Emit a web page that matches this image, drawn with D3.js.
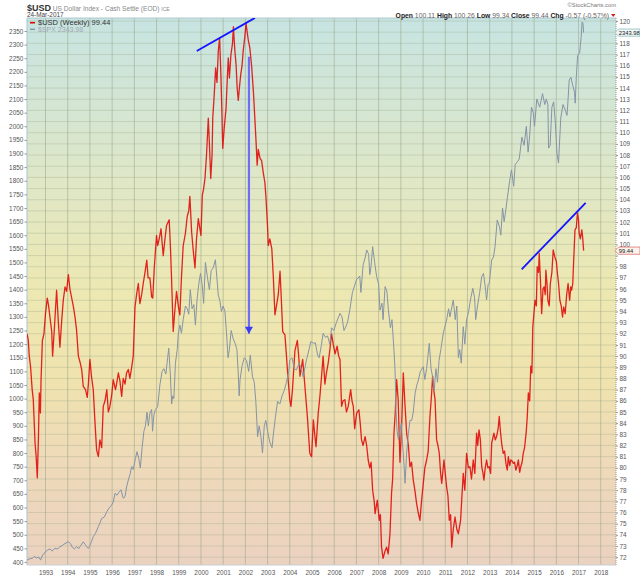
<!DOCTYPE html>
<html>
<head>
<meta charset="utf-8">
<script src="https://d3js.org/d3.v7.min.js"></script>
<style>
body { margin: 0; background: #fff; }
svg { display: block; font-family: "Liberation Sans", Arial, sans-serif; }
.axis text { fill: #555; font-size: 6.4px; }
.axis line { stroke: #999; }
</style>
</head>
<body>
<svg id="chart" width="640" height="576"></svg>
<script>
// [decimal year, value]
var usdPoints = [
[1992.17,92.0],[1992.22,91.5],[1992.27,90.0],[1992.33,89.0],[1992.4,87.0],[1992.45,86.1],[1992.5,83.7],[1992.53,82.2],[1992.58,81.0],
[1992.63,79.1],[1992.68,82.5],[1992.72,86.7],[1992.77,84.9],[1992.8,87.9],[1992.86,91.4],[1992.93,92.0],[1993.0,93.8],[1993.08,95.2],
[1993.14,94.5],[1993.2,93.5],[1993.28,92.2],[1993.32,90.0],[1993.4,92.5],[1993.5,95.9],[1993.58,93.0],[1993.65,90.8],[1993.73,93.2],
[1993.8,95.0],[1993.88,96.2],[1993.95,95.8],[1994.03,97.3],[1994.1,96.0],[1994.18,95.2],[1994.25,94.5],[1994.33,93.5],[1994.4,92.3],
[1994.48,90.0],[1994.55,89.5],[1994.63,88.8],[1994.7,87.3],[1994.8,87.0],[1994.88,86.3],[1994.93,87.5],[1995.0,89.7],[1995.07,88.2],
[1995.15,87.0],[1995.23,84.0],[1995.3,81.6],[1995.38,81.0],[1995.45,82.5],[1995.53,81.8],[1995.6,85.5],[1995.68,86.0],[1995.76,87.0],
[1995.83,85.0],[1995.9,85.5],[1995.98,86.5],[1996.05,87.9],[1996.15,87.0],[1996.2,87.5],[1996.28,88.5],[1996.35,87.8],[1996.43,86.4],
[1996.5,88.0],[1996.58,87.5],[1996.65,88.5],[1996.73,88.8],[1996.8,88.0],[1996.88,89.0],[1996.95,90.0],[1997.03,94.4],[1997.1,95.5],
[1997.18,96.5],[1997.25,94.7],[1997.33,95.5],[1997.4,96.5],[1997.48,97.5],[1997.56,98.6],[1997.62,97.0],[1997.7,97.0],[1997.78,95.3],
[1997.83,95.2],[1997.9,98.0],[1998.0,100.8],[1998.05,99.9],[1998.12,100.5],[1998.2,101.4],[1998.3,99.0],[1998.38,100.5],[1998.45,101.7],
[1998.57,102.2],[1998.63,99.5],[1998.68,96.7],[1998.75,92.2],[1998.82,94.0],[1998.9,95.8],[1998.98,94.5],[1999.05,93.7],[1999.12,97.0],
[1999.2,99.9],[1999.3,101.0],[1999.38,102.5],[1999.45,103.0],[1999.5,104.3],[1999.58,101.1],[1999.65,99.5],[1999.73,97.9],[1999.8,100.5],
[1999.88,102.3],[2000.0,100.8],[2000.06,104.4],[2000.12,105.0],[2000.18,105.9],[2000.25,108.0],[2000.33,111.3],[2000.38,109.0],
[2000.44,105.9],[2000.5,108.0],[2000.53,111.3],[2000.6,113.5],[2000.66,115.8],[2000.72,114.5],[2000.78,117.3],[2000.84,118.5],
[2000.9,115.0],[2000.94,112.0],[2000.98,108.6],[2001.05,110.5],[2001.13,112.2],[2001.2,115.5],[2001.23,116.7],[2001.28,114.9],
[2001.35,117.0],[2001.42,118.0],[2001.46,119.5],[2001.52,117.5],[2001.58,116.1],[2001.63,114.0],[2001.68,112.9],[2001.73,114.0],
[2001.79,115.2],[2001.85,116.0],[2001.9,117.3],[2001.97,118.5],[2002.03,119.8],[2002.08,119.0],[2002.13,118.3],[2002.2,117.6],
[2002.28,116.0],[2002.36,113.7],[2002.42,111.5],[2002.48,109.2],[2002.53,107.1],[2002.58,108.5],[2002.66,107.7],[2002.73,107.5],
[2002.8,106.5],[2002.88,105.5],[2002.93,104.1],[2003.0,101.5],[2003.03,99.9],[2003.1,100.5],[2003.19,99.6],[2003.26,97.0],[2003.33,93.7],
[2003.4,94.5],[2003.48,95.5],[2003.56,97.6],[2003.62,95.0],[2003.68,92.2],[2003.78,91.9],[2003.85,90.0],[2003.92,88.0],[2004.0,86.1],
[2004.05,85.5],[2004.12,87.0],[2004.23,90.5],[2004.34,91.4],[2004.4,90.0],[2004.46,88.2],[2004.58,89.7],[2004.68,87.3],[2004.79,84.6],
[2004.9,81.3],[2004.98,81.0],[2005.06,84.3],[2005.12,83.0],[2005.18,81.9],[2005.28,84.9],[2005.36,86.5],[2005.43,88.2],[2005.5,90.0],
[2005.58,87.5],[2005.65,88.5],[2005.73,89.4],[2005.8,90.5],[2005.88,92.0],[2005.96,91.0],[2006.04,90.2],[2006.13,90.9],[2006.2,90.0],
[2006.26,89.7],[2006.33,85.5],[2006.4,86.0],[2006.48,86.1],[2006.55,85.0],[2006.63,85.5],[2006.74,87.0],[2006.8,86.0],[2006.86,85.5],
[2006.92,83.5],[2007.01,84.9],[2007.11,85.2],[2007.17,84.0],[2007.23,82.5],[2007.3,82.0],[2007.39,82.8],[2007.46,82.0],[2007.53,80.7],
[2007.6,80.0],[2007.66,80.5],[2007.73,78.0],[2007.8,77.0],[2007.84,75.9],[2007.94,77.1],[2008.03,75.3],[2008.08,75.8],[2008.13,72.9],
[2008.2,71.9],[2008.28,72.5],[2008.36,72.9],[2008.43,72.3],[2008.51,74.1],[2008.58,77.7],[2008.63,79.0],[2008.69,83.1],[2008.75,85.0],
[2008.81,87.9],[2008.88,86.1],[2008.96,80.5],[2009.04,84.0],[2009.11,88.5],[2009.19,85.5],[2009.26,83.1],[2009.34,82.0],[2009.41,80.1],
[2009.48,80.5],[2009.56,78.9],[2009.63,78.0],[2009.71,76.8],[2009.78,76.0],[2009.86,75.3],[2009.93,77.0],[2010.01,78.6],[2010.08,80.0],
[2010.16,80.7],[2010.23,81.5],[2010.31,84.6],[2010.38,86.5],[2010.43,88.2],[2010.48,87.0],[2010.54,86.1],[2010.61,82.5],[2010.67,82.0],
[2010.73,81.3],[2010.79,79.5],[2010.84,78.6],[2010.94,80.7],[2011.0,79.5],[2011.06,78.3],[2011.12,77.5],[2011.18,75.3],[2011.24,75.8],
[2011.29,72.9],[2011.36,74.5],[2011.44,75.6],[2011.52,74.5],[2011.59,74.1],[2011.69,75.3],[2011.75,77.5],[2011.81,79.5],[2011.88,78.0],
[2011.96,81.3],[2012.04,80.0],[2012.11,80.1],[2012.18,79.0],[2012.26,80.7],[2012.33,79.5],[2012.41,83.1],[2012.46,82.0],[2012.52,83.4],
[2012.58,82.5],[2012.64,80.1],[2012.7,79.5],[2012.74,78.9],[2012.8,80.0],[2012.86,80.7],[2012.92,80.0],[2012.98,80.1],[2013.04,79.5],
[2013.09,82.2],[2013.19,83.1],[2013.25,82.5],[2013.31,82.8],[2013.38,83.5],[2013.43,84.6],[2013.49,83.1],[2013.55,82.0],[2013.61,81.3],
[2013.67,81.5],[2013.73,80.4],[2013.79,79.8],[2013.84,81.0],[2013.9,80.2],[2013.95,80.7],[2014.01,80.6],[2014.07,80.4],[2014.12,80.5],
[2014.18,79.8],[2014.24,80.2],[2014.29,80.7],[2014.35,79.6],[2014.4,80.1],[2014.46,80.5],[2014.51,81.3],[2014.57,81.8],[2014.64,83.1],
[2014.69,84.5],[2014.74,86.7],[2014.8,86.0],[2014.85,89.1],[2014.9,88.5],[2014.94,92.6],[2015.0,94.0],[2015.04,95.0],[2015.1,94.5],
[2015.14,98.0],[2015.2,97.5],[2015.23,99.2],[2015.28,97.0],[2015.34,93.8],[2015.4,96.0],[2015.45,96.2],[2015.5,95.5],[2015.53,97.7],
[2015.58,96.5],[2015.62,95.0],[2015.68,94.5],[2015.73,96.5],[2015.8,97.5],[2015.86,99.5],[2015.93,98.9],[2016.0,98.5],[2016.05,97.4],
[2016.1,96.5],[2016.16,95.0],[2016.22,94.5],[2016.28,93.5],[2016.33,94.4],[2016.4,93.8],[2016.47,95.6],[2016.53,96.5],[2016.6,95.0],
[2016.65,96.2],[2016.69,95.9],[2016.74,96.5],[2016.77,98.0],[2016.84,101.3],[2016.9,101.5],[2016.95,102.8],[2017.0,102.2],[2017.03,101.0],
[2017.08,100.5],[2017.15,101.3],[2017.19,100.5],[2017.23,99.44]
];

var spxPoints = [
[1992.17,407],[1992.3,412],[1992.4,413],[1992.5,420],[1992.6,415],[1992.7,418],[1992.78,407],[1992.85,422],[1993.0,438],[1993.1,444],
[1993.2,448],[1993.3,440],[1993.43,450],[1993.55,448],[1993.65,456],[1993.75,460],[1993.88,468],[1994.03,474],[1994.12,468],[1994.2,455],
[1994.3,448],[1994.4,456],[1994.5,450],[1994.6,462],[1994.7,474],[1994.78,465],[1994.85,456],[1994.93,450],[1995.0,460],[1995.07,475],
[1995.15,493],[1995.25,505],[1995.38,530],[1995.46,545],[1995.53,560],[1995.65,565],[1995.76,585],[1995.88,600],[1995.98,609],[1996.05,620],
[1996.13,652],[1996.22,645],[1996.3,655],[1996.4,665],[1996.5,634],[1996.58,640],[1996.65,675],[1996.73,701],[1996.8,720],[1996.88,750],
[1996.95,740],[1997.05,780],[1997.12,805],[1997.2,780],[1997.27,745],[1997.35,820],[1997.43,880],[1997.5,900],[1997.57,950],[1997.63,900],
[1997.7,946],[1997.78,960],[1997.82,880],[1997.88,940],[1997.95,960],[1998.05,970],[1998.15,1050],[1998.25,1100],[1998.33,1110],
[1998.42,1090],[1998.5,1150],[1998.55,1185],[1998.62,1090],[1998.68,980],[1998.73,1010],[1998.78,1000],[1998.85,1130],[1998.93,1180],
[1998.98,1240],[1999.05,1270],[1999.12,1240],[1999.2,1290],[1999.3,1340],[1999.38,1330],[1999.45,1310],[1999.52,1400],[1999.6,1330],
[1999.68,1345],[1999.75,1270],[1999.82,1360],[1999.9,1420],[1999.98,1460],[2000.05,1420],[2000.12,1350],[2000.2,1500],[2000.3,1440],
[2000.38,1400],[2000.46,1470],[2000.55,1480],[2000.65,1510],[2000.72,1440],[2000.78,1380],[2000.85,1360],[2000.92,1320],[2001.0,1340],
[2001.08,1320],[2001.15,1240],[2001.22,1150],[2001.28,1180],[2001.36,1250],[2001.45,1220],[2001.55,1200],[2001.62,1180],[2001.68,1090],
[2001.72,1010],[2001.76,1070],[2001.85,1120],[2001.95,1150],[2002.05,1140],[2002.15,1100],[2002.22,1160],[2002.32,1080],[2002.4,1060],
[2002.47,990],[2002.55,860],[2002.62,900],[2002.7,860],[2002.77,800],[2002.85,900],[2002.92,920],[2003.0,880],[2003.1,840],[2003.2,820],
[2003.26,870],[2003.35,930],[2003.45,990],[2003.55,980],[2003.65,1010],[2003.75,1030],[2003.85,1060],[2003.95,1100],[2004.0,1142],
[2004.1,1150],[2004.2,1110],[2004.3,1105],[2004.42,1130],[2004.52,1110],[2004.6,1080],[2004.75,1142],[2004.85,1175],[2004.95,1210],
[2005.06,1203],[2005.15,1205],[2005.25,1160],[2005.32,1150],[2005.42,1195],[2005.5,1240],[2005.6,1225],[2005.7,1230],[2005.8,1200],
[2005.88,1260],[2005.98,1250],[2006.1,1280],[2006.26,1313],[2006.35,1300],[2006.44,1250],[2006.5,1260],[2006.6,1280],[2006.7,1325],
[2006.82,1390],[2007.0,1436],[2007.15,1450],[2007.2,1390],[2007.3,1490],[2007.4,1520],[2007.46,1546],[2007.55,1530],[2007.6,1455],
[2007.65,1480],[2007.73,1558],[2007.82,1500],[2007.91,1448],[2008.0,1420],[2008.06,1325],[2008.15,1350],[2008.2,1290],[2008.29,1411],
[2008.37,1395],[2008.44,1325],[2008.53,1260],[2008.6,1290],[2008.69,1178],[2008.74,1100],[2008.78,960],[2008.83,880],[2008.89,850],
[2008.95,880],[2009.02,910],[2009.08,830],[2009.14,760],[2009.19,689],[2009.26,800],[2009.34,872],[2009.41,920],[2009.49,920],
[2009.56,950],[2009.64,1019],[2009.72,1050],[2009.79,1068],[2009.88,1100],[2010.01,1117],[2010.08,1070],[2010.16,1110],[2010.28,1203],
[2010.36,1110],[2010.43,1080],[2010.5,1030],[2010.58,1110],[2010.65,1060],[2010.72,1140],[2010.8,1180],[2010.91,1240],[2011.06,1289],
[2011.15,1330],[2011.21,1300],[2011.3,1338],[2011.36,1362],[2011.45,1290],[2011.52,1340],[2011.59,1150],[2011.65,1180],[2011.72,1130],
[2011.81,1264],[2011.88,1200],[2011.96,1289],[2012.05,1320],[2012.15,1370],[2012.24,1405],[2012.32,1370],[2012.37,1290],[2012.45,1340],
[2012.55,1390],[2012.64,1448],[2012.72,1460],[2012.8,1410],[2012.86,1362],[2012.93,1420],[2012.98,1423],[2013.09,1509],[2013.17,1520],
[2013.24,1558],[2013.34,1656],[2013.44,1631],[2013.5,1600],[2013.58,1700],[2013.65,1650],[2013.72,1690],[2013.8,1740],[2013.9,1800],
[2013.98,1840],[2014.08,1780],[2014.15,1860],[2014.25,1870],[2014.33,1880],[2014.45,1960],[2014.55,1930],[2014.65,2000],[2014.73,1905],
[2014.8,1965],[2014.88,2070],[2014.96,2050],[2015.02,2000],[2015.12,2100],[2015.25,2070],[2015.38,2120],[2015.48,2080],[2015.55,2100],
[2015.62,2080],[2015.65,1920],[2015.72,1930],[2015.8,2070],[2015.88,2090],[2015.96,2010],[2016.03,1900],[2016.1,1865],[2016.2,2030],
[2016.3,2080],[2016.4,2060],[2016.48,2040],[2016.5,2060],[2016.58,2170],[2016.66,2180],[2016.74,2150],[2016.82,2125],[2016.85,2085],
[2016.9,2180],[2016.96,2260],[2017.05,2270],[2017.12,2330],[2017.16,2383],[2017.2,2378],[2017.23,2343.98]
];

var yearTicks = [1993,1994,1995,1996,1997,1998,1999,2000,2001,2002,2003,2004,2005,2006,2007,2008,2009,2010,2011,2012,2013,2014,2015,2016,2017,2018];
var usdTicks = [72,73,74,75,76,77,78,79,80,81,82,83,84,85,86,87,88,89,90,91,92,93,94,95,96,97,98,99,100,101,102,103,104,105,106,107,108,109,110,111,112,113,114,115,116,117,118,119,120];
var spxTicks = [400,450,500,550,600,650,700,750,800,850,900,950,1000,1050,1100,1150,1200,1250,1300,1350,1400,1450,1500,1550,1600,1650,1700,1750,1800,1850,1900,1950,2000,2050,2100,2150,2200,2250,2300,2350];

var quoteLabels = ["Open", "High", "Low", "Close", "Chg"];
var quoteValues = ["100.11", "100.26", "99.34", "99.44", "-0.57 (-0.57%)"];
var usdLast = 99.44, spxLast = 2343.98;

// hand-drawn annotations, in [year, USD] units
var trendLines = [
	[[1999.81, 117.31], [2002.43, 120.28]],
	[[2014.44, 97.77], [2017.32, 103.73]]
];
var arrowLine = [[2002.16, 116.8], [2002.16, 92.0]];

var svg = d3.select("#chart"),
	plot = {left: 27, right: 616, top: 18, bottom: 565};

var x = d3.scaleLinear().domain([1992.167, 2018.687]).range([plot.left, plot.right]);
var yR = d3.scaleLinear().domain([71.30, 120.27]).range([plot.bottom, plot.top]);
var yL = d3.scaleLinear().domain([388.9, 2397.7]).range([plot.bottom, plot.top]);

var defs = svg.append("defs");
var grad = defs.append("linearGradient").attr("id", "bg").attr("x1", 0).attr("y1", 0).attr("x2", 0).attr("y2", 1);
[[0, "#c7e4e2"], [0.3, "#dfe7c6"], [0.5, "#ede8b2"], [0.66, "#efe3ae"], [0.82, "#eed9b9"], [1, "#ebd2c0"]].forEach(function(s) {
	grad.append("stop").attr("offset", s[0]).attr("stop-color", s[1]);
});
defs.append("clipPath").attr("id", "plotclip").append("rect")
	.attr("x", plot.left).attr("y", plot.top).attr("width", plot.right - plot.left).attr("height", plot.bottom - plot.top);

svg.append("rect").attr("x", plot.left).attr("y", plot.top)
	.attr("width", plot.right - plot.left).attr("height", plot.bottom - plot.top)
	.attr("fill", "url(#bg)");

// grid
svg.append("g").selectAll("line").data(usdTicks).enter().append("line")
	.attr("x1", plot.left).attr("x2", plot.right).attr("y1", d => yR(d)).attr("y2", d => yR(d))
	.attr("stroke", "#98a488").attr("stroke-opacity", 0.4).attr("stroke-width", 0.8);
svg.append("g").selectAll("line").data(yearTicks).enter().append("line")
	.attr("x1", d => x(d)).attr("x2", d => x(d)).attr("y1", plot.top).attr("y2", plot.bottom)
	.attr("stroke", "#98a488").attr("stroke-opacity", 0.6).attr("stroke-width", 0.9);

// borders
svg.append("line").attr("x1", plot.left).attr("x2", plot.left).attr("y1", plot.top).attr("y2", plot.bottom).attr("stroke", "#a9c6cf");
svg.append("line").attr("x1", plot.left).attr("x2", plot.right).attr("y1", plot.top).attr("y2", plot.top).attr("stroke", "#b0c8cc");
svg.append("line").attr("x1", plot.left).attr("x2", plot.right).attr("y1", plot.bottom).attr("y2", plot.bottom).attr("stroke", "#c8d0d4");
svg.append("line").attr("x1", plot.right).attr("x2", plot.right).attr("y1", plot.top).attr("y2", plot.bottom)
	.attr("stroke", "#999").attr("stroke-dasharray", "1,1");

// axes; labels hidden behind the last-value tags are left out
var hidden = [Math.round(usdLast), Math.round(yR.invert(yL(spxLast)))];
svg.append("g").attr("class", "axis").attr("transform", `translate(${plot.left},0)`)
	.call(d3.axisLeft(yL).tickValues(spxTicks).tickFormat(d3.format("d")).tickSize(2.5).tickPadding(1.2));
svg.append("g").attr("class", "axis").attr("transform", `translate(${plot.right},0)`)
	.call(d3.axisRight(yR).tickValues(usdTicks).tickFormat(d => hidden.includes(d) ? "" : d).tickSize(2).tickPadding(1.5));
svg.append("g").attr("class", "axis").attr("transform", `translate(0,${plot.bottom})`)
	.call(d3.axisBottom(x).tickValues(yearTicks).tickFormat(d3.format("d")).tickSize(0).tickPadding(5));
svg.selectAll(".axis .domain").remove();

// series
var lineSpx = d3.line().x(d => x(d[0])).y(d => yL(d[1]));
var lineUsd = d3.line().x(d => x(d[0])).y(d => yR(d[1]));
var series = svg.append("g").attr("clip-path", "url(#plotclip)");
series.append("path").datum(usdPoints).attr("d", lineUsd)
	.attr("fill", "none").attr("stroke", "#e00000").attr("stroke-width", 1.3).attr("stroke-opacity", 0.85)
	.attr("stroke-linejoin", "round");
series.append("path").datum(spxPoints).attr("d", lineSpx)
	.attr("fill", "none").attr("stroke", "#8594a6").attr("stroke-width", 1).attr("stroke-linejoin", "round");

// annotations
series.selectAll(".trend").data(trendLines).enter().append("path").attr("class", "trend")
	.attr("d", lineUsd).attr("fill", "none").attr("stroke", "#1414ff").attr("stroke-width", 1.8);
series.append("path").datum(arrowLine).attr("d", lineUsd)
	.attr("fill", "none").attr("stroke", "#6e6ef5").attr("stroke-width", 2.2);
var tipX = x(arrowLine[1][0]), tipY = yR(arrowLine[1][1]);
series.append("path")
	.attr("d", `M${tipX - 4},${tipY - 7}L${tipX + 4},${tipY - 7}L${tipX},${tipY}Z`)
	.attr("fill", "#3a3af8");

// legend
var legend = svg.append("g");
legend.append("line").attr("x1", 30).attr("x2", 35).attr("y1", 22.7).attr("y2", 22.7).attr("stroke", "#e00000").attr("stroke-width", 1.6);
legend.append("text").attr("x", 38).attr("y", 25.3).attr("font-size", 7.5).attr("fill", "#333")
	.text("$USD (Weekly) " + usdLast.toFixed(2));
legend.append("line").attr("x1", 30).attr("x2", 35).attr("y1", 29.3).attr("y2", 29.3).attr("stroke", "#8594a6").attr("stroke-width", 1.4);
legend.append("text").attr("x", 38).attr("y", 31.8).attr("font-size", 7).attr("fill", "#a0a8b0")
	.text("$SPX " + spxLast.toFixed(2));

// price tags on the right axis
function tag(yPos, label, stroke, fill) {
	var g = svg.append("g").attr("transform", `translate(${plot.right},${yPos})`);
	g.append("path").attr("d", "M-1,0L2.5,-3.6L24,-3.6L24,3.6L2.5,3.6Z")
		.attr("fill", fill).attr("stroke", stroke).attr("stroke-width", 0.8);
	g.append("text").attr("x", 2.8).attr("y", 2.1).attr("font-size", 5.8).attr("fill", "#222").text(label);
}
tag(yL(spxLast), spxLast.toFixed(2), "#8fbcbc", "#eef7f6");
tag(yR(usdLast), usdLast.toFixed(2), "#e07070", "#fbf3ea");

// header
var head = svg.append("text").attr("x", 27).attr("y", 10.5);
head.append("tspan").attr("font-weight", "bold").attr("font-size", 9).attr("fill", "#333").text("$USD");
head.append("tspan").attr("font-size", 6.6).attr("fill", "#888").text(" US Dollar Index - Cash Settle (EOD) ");
head.append("tspan").attr("font-size", 5).attr("fill", "#888").text("ICE");
svg.append("text").attr("x", 27).attr("y", 17).attr("font-size", 6.4).attr("fill", "#444").text("24-Mar-2017");

svg.append("text").attr("x", 616).attr("y", 7).attr("text-anchor", "end")
	.attr("font-size", 5.8).attr("fill", "#777").text("\u00a9StockCharts.com");

var quote = svg.append("text").attr("x", 609).attr("y", 17.5).attr("text-anchor", "end").attr("font-size", 6.8).attr("fill", "#666");
quoteLabels.forEach(function(l, i) {
	quote.append("tspan").attr("font-weight", "bold").attr("fill", "#222").text((i ? " " : "") + l + " ");
	quote.append("tspan").text(quoteValues[i]);
});
svg.append("path").attr("d", "M611,14L615.5,14L613.25,17Z").attr("fill", "#d02020");
</script>
</body>
</html>
